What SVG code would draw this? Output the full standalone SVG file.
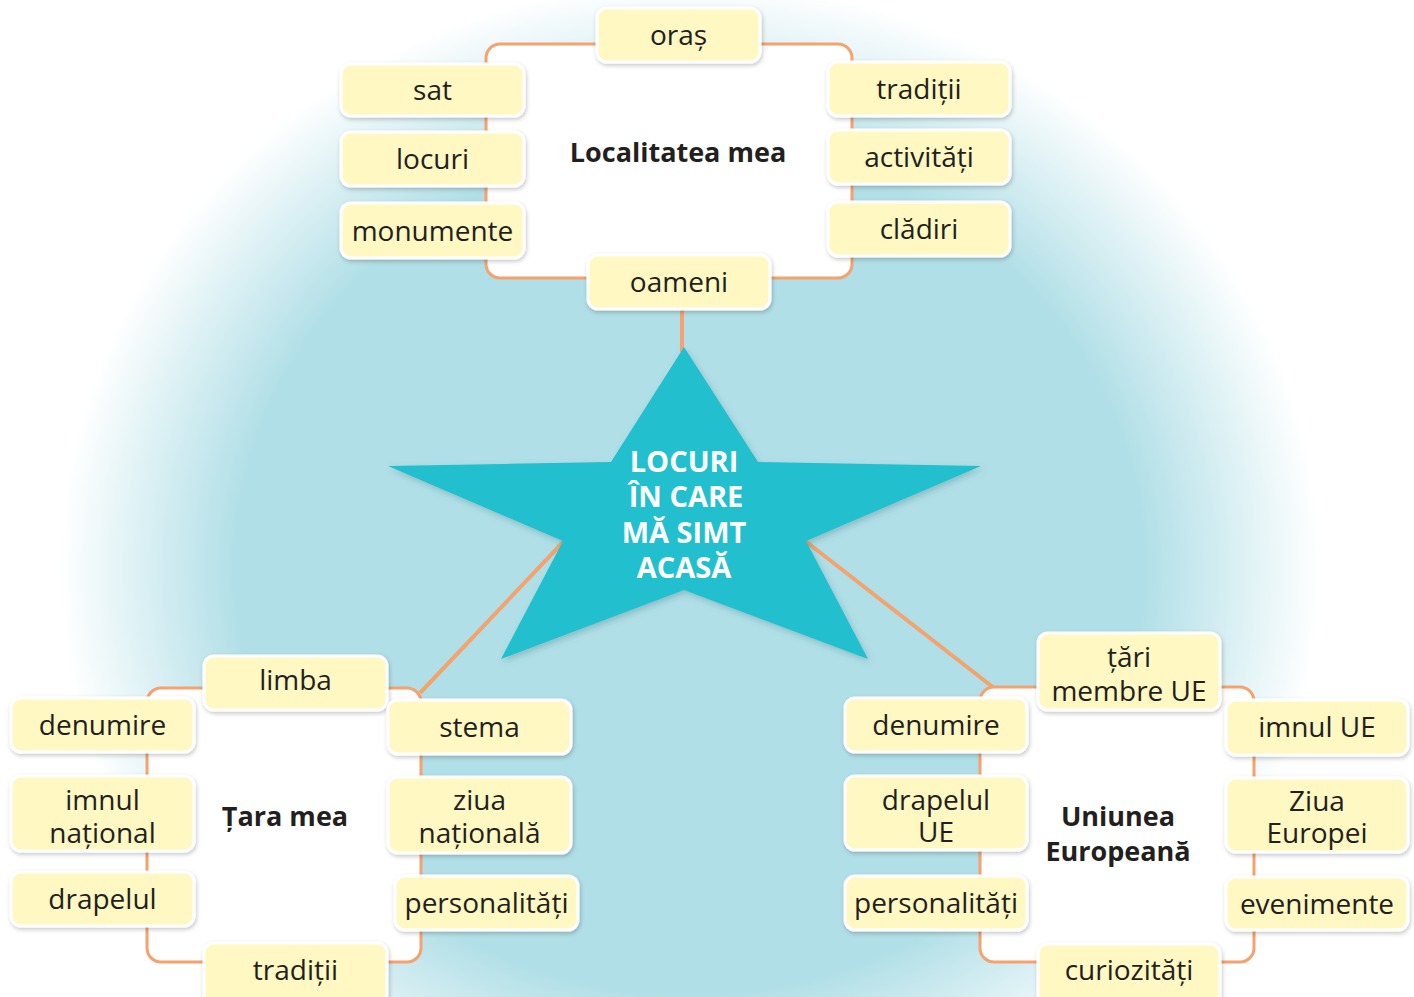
<svg xmlns="http://www.w3.org/2000/svg" width="1414" height="997" viewBox="0 0 1414 997">
<defs>
<radialGradient id="bg" gradientUnits="userSpaceOnUse" cx="690" cy="570" r="600" gradientTransform="translate(690 570) scale(1.05 0.98) translate(-690 -570)">
<stop offset="0" stop-color="#B1DFE7"/>
<stop offset="0.72" stop-color="#B1DFE7"/>
<stop offset="1" stop-color="#B1DFE7" stop-opacity="0"/>
</radialGradient>
<filter id="sh" x="-20%" y="-20%" width="140%" height="150%">
<feDropShadow dx="1" dy="2" stdDeviation="2" flood-color="#000" flood-opacity="0.22"/>
</filter>
<filter id="ssh" x="-10%" y="-10%" width="120%" height="125%">
<feDropShadow dx="2" dy="3" stdDeviation="3" flood-color="#2a6f7a" flood-opacity="0.3"/>
</filter>
</defs>
<style>
.frame{fill:#fff;stroke:#F4A26E;stroke-width:3}
.node rect{fill:#FFF8C2;stroke:#fff;stroke-width:3;filter:url(#sh)}
.node text{font-family:"Open Sans","Liberation Sans",sans-serif;font-size:28px;fill:#231F20;text-anchor:middle}
.title{font-family:"Open Sans","Liberation Sans",sans-serif;font-size:27px;font-weight:bold;fill:#231F20;text-anchor:middle}
.conn line{stroke:#F4A26E;stroke-width:4}
.star text{font-family:"Open Sans","Liberation Sans",sans-serif;font-size:29px;font-weight:bold;fill:#fff;text-anchor:middle}
</style>
<rect width="1414" height="997" fill="#fff"/>
<rect width="1414" height="997" fill="url(#bg)"/>

<g id="connectors" class="conn">
<line x1="682" y1="305" x2="682" y2="352"/>
<line x1="565" y1="540" x2="420" y2="693"/>
<line x1="804" y1="540" x2="994" y2="688"/>
</g>

<g id="frame-localitate"><rect class="frame" x="486" y="44" width="366" height="234" rx="14"/><text class="title" x="678" y="162">Localitatea mea</text></g>
<g id="frame-tara"><rect class="frame" x="147" y="688" width="274" height="274" rx="14"/><text class="title" x="285" y="826">Țara mea</text></g>
<g id="frame-ue"><rect class="frame" x="980" y="687" width="274" height="275" rx="14"/><text class="title" x="1118" y="826">Uniunea</text><text class="title" x="1118" y="861">Europeană</text></g>

<g id="star" class="star">
<polygon points="684,347 758,462 981,466 806,541 868,659 684,590 501,659 563,541 388,466 611,462" fill="#22BFCE" filter="url(#ssh)"/>
<text x="684" y="472">LOCURI</text>
<text x="686" y="507">ÎN CARE</text>
<text x="684" y="543">MĂ SIMT</text>
<text x="684" y="578">ACASĂ</text>
</g>

<g id="n-oras" class="node"><rect x="597" y="8" width="163" height="54" rx="10"/><text x="678.5" y="45">oraș</text></g>
<g id="n-sat" class="node"><rect x="341" y="64" width="183" height="52" rx="10"/><text x="432.5" y="100">sat</text></g>
<g id="n-locuri" class="node"><rect x="341" y="132" width="183" height="54" rx="10"/><text x="432.5" y="169">locuri</text></g>
<g id="n-monumente" class="node"><rect x="341" y="203" width="183" height="55" rx="10"/><text x="432.5" y="241">monumente</text></g>
<g id="n-traditii1" class="node"><rect x="828" y="62" width="182" height="54" rx="10"/><text x="919" y="99">tradiții</text></g>
<g id="n-activitati" class="node"><rect x="828" y="130" width="182" height="54" rx="10"/><text x="919" y="167">activități</text></g>
<g id="n-cladiri" class="node"><rect x="828" y="202" width="182" height="54" rx="10"/><text x="919" y="239">clădiri</text></g>
<g id="n-oameni" class="node"><rect x="588" y="255" width="182" height="54" rx="10"/><text x="679" y="292">oameni</text></g>

<g id="n-limba" class="node"><rect x="204" y="656" width="183" height="54" rx="10"/><text x="295.5" y="690">limba</text></g>
<g id="n-denumire1" class="node"><rect x="11" y="698" width="183" height="54" rx="10"/><text x="102.5" y="735">denumire</text></g>
<g id="n-imnul" class="node"><rect x="11" y="776" width="183" height="75" rx="10"/><text x="102.5" y="810">imnul</text><text x="102.5" y="843">național</text></g>
<g id="n-drapelul" class="node"><rect x="11" y="872" width="183" height="54" rx="10"/><text x="102.5" y="909">drapelul</text></g>
<g id="n-stema" class="node"><rect x="388" y="700" width="183" height="54" rx="10"/><text x="479.5" y="737">stema</text></g>
<g id="n-ziua" class="node"><rect x="388" y="777" width="183" height="76" rx="10"/><text x="479.5" y="810">ziua</text><text x="479.5" y="843">națională</text></g>
<g id="n-personalitati1" class="node"><rect x="395" y="876" width="183" height="54" rx="10"/><text x="486.5" y="913">personalități</text></g>
<g id="n-traditii2" class="node"><rect x="204" y="943" width="183" height="62" rx="10"/><text x="295.5" y="980">tradiții</text></g>

<g id="n-tari" class="node"><rect x="1038" y="633" width="182" height="77" rx="10"/><text x="1129" y="667">țări</text><text x="1129" y="701">membre UE</text></g>
<g id="n-denumire2" class="node"><rect x="845" y="698" width="182" height="54" rx="10"/><text x="936" y="735">denumire</text></g>
<g id="n-drapelul-ue" class="node"><rect x="845" y="776" width="182" height="74" rx="10"/><text x="936" y="810">drapelul</text><text x="936" y="842">UE</text></g>
<g id="n-personalitati2" class="node"><rect x="845" y="876" width="182" height="54" rx="10"/><text x="936" y="913">personalități</text></g>
<g id="n-imnul-ue" class="node"><rect x="1226" y="700" width="182" height="55" rx="10"/><text x="1317" y="737">imnul UE</text></g>
<g id="n-ziua-europei" class="node"><rect x="1226" y="778" width="182" height="74" rx="10"/><text x="1317" y="811">Ziua</text><text x="1317" y="843">Europei</text></g>
<g id="n-evenimente" class="node"><rect x="1226" y="877" width="182" height="53" rx="10"/><text x="1317" y="914">evenimente</text></g>
<g id="n-curiozitati" class="node"><rect x="1038" y="944" width="182" height="62" rx="10"/><text x="1129" y="980">curiozități</text></g>
</svg>
